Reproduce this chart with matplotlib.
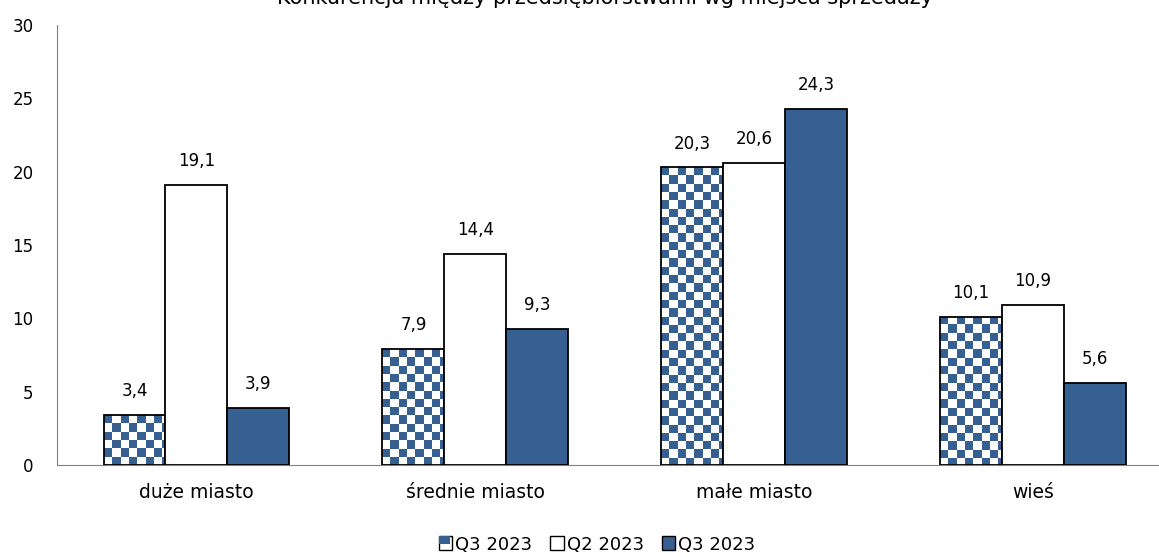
import numpy as np
import matplotlib
matplotlib.use("Agg")
import matplotlib.pyplot as plt
from matplotlib.colors import ListedColormap
from matplotlib.patches import Rectangle, Patch
from matplotlib.legend_handler import HandlerBase

categories = ["duże miasto", "średnie miasto", "małe miasto", "wieś"]
series_names = ["Q3 2023", "Q2 2023", "Q3 2023"]
q3_prev = [3.4, 7.9, 20.3, 10.1]
q2 = [19.1, 14.4, 20.6, 10.9]
q3 = [3.9, 9.3, 24.3, 5.6]
title = "Konkurencja między przedsiębiorstwami wg miejsca sprzedaży"

BLUE = "#366092"
plt.rcParams["font.family"] = ["DejaVu Sans"]


def fmt(v):
    return f"{v:.1f}".replace(".", ",")


class CheckerHandler(HandlerBase):
    # small legend swatch for the checkered series
    def create_artists(self, legend, orig, x0, y0, w, h, fs, trans):
        s = min(w, h)
        bx = x0 + (w - s) / 2
        box = Rectangle((bx, y0), s, s, facecolor="white", edgecolor="black",
                        lw=1.0, transform=trans)
        blk = Rectangle((bx, y0 + s * 0.45), s * 0.8, s * 0.55, facecolor=BLUE,
                        edgecolor="none", transform=trans)
        return [box, blk]


class SquareHandler(HandlerBase):
    def create_artists(self, legend, orig, x0, y0, w, h, fs, trans):
        s = min(w, h)
        bx = x0 + (w - s) / 2
        return [Rectangle((bx, y0), s, s, facecolor=orig.get_facecolor(),
                          edgecolor="black", lw=1.0, transform=trans)]


fig = plt.figure(figsize=(11.59, 5.57), dpi=100)
ax = fig.add_axes([57 / 1159, 92 / 557, (1159 - 57) / 1159, 440 / 557])

x = np.arange(len(categories))
w = 0.222
xlim = (-0.5, -0.5 + (1159 - 56.5) / 279)
ax.set_xlim(*xlim)
ax.set_ylim(0, 30)

bars1 = ax.bar(x - w, q3_prev, w, facecolor="none", edgecolor="black", lw=1.3, zorder=3)
bars2 = ax.bar(x, q2, w, facecolor="white", edgecolor="black", lw=1.3, zorder=3)
bars3 = ax.bar(x + w, q3, w, facecolor=BLUE, edgecolor="black", lw=1.3, zorder=3)

# checkerboard fill, clipped to each bar of the first series, starting blue at top-left
cell = 8.3
px_x = ax.transData.transform((1, 0))[0] - ax.transData.transform((0, 0))[0]
px_y = ax.transData.transform((0, 1))[1] - ax.transData.transform((0, 0))[1]
cmap = ListedColormap(["white", BLUE])
for b in bars1:
    bx, bw, bh = b.get_x(), b.get_width(), b.get_height()
    nx = int(np.ceil(bw * px_x / cell))
    ny = int(np.ceil(bh * px_y / cell))
    ii, jj = np.indices((ny, nx))
    board = ((ii + jj) % 2 == 0).astype(float)
    im = ax.imshow(board, cmap=cmap, vmin=0, vmax=1, interpolation="nearest",
                   extent=(bx, bx + nx * cell / px_x, bh - ny * cell / px_y, bh),
                   aspect="auto", zorder=2)
    im.set_clip_path(b)
ax.set_xlim(*xlim)
ax.set_ylim(0, 30)

for bars, vals in [(bars1, q3_prev), (bars2, q2), (bars3, q3)]:
    for b, v in zip(bars, vals):
        ax.text(b.get_x() + b.get_width() / 2, v + 1.0, fmt(v), ha="center",
                va="bottom", fontsize=12, zorder=4)

ax.set_xticks(x)
ax.set_xticklabels(categories, fontsize=13.5)
ax.set_yticks(range(0, 31, 5))
ax.tick_params(axis="y", length=0, pad=17, labelsize=12)
ax.tick_params(axis="x", length=0, pad=13)
for s in ["top", "right"]:
    ax.spines[s].set_visible(False)
ax.spines["left"].set_color("#808080")
ax.spines["bottom"].set_color("#808080")

fig.text(605 / 1159, 1 - 4 / 557, title, ha="center", va="baseline", fontsize=15)

h1 = Patch(facecolor="white")
h2 = Patch(facecolor="white")
h3 = Patch(facecolor=BLUE)
fig.legend([h1, h2, h3], series_names, loc="center", bbox_to_anchor=(597 / 1159, 1 - 545 / 557),
           ncol=3, frameon=False, fontsize=13, handlelength=0.75, handleheight=0.75,
           handletextpad=0.15, columnspacing=1.0,
           handler_map={h1: CheckerHandler(), h2: SquareHandler(), h3: SquareHandler()})

fig.savefig("out.png", dpi=100)
